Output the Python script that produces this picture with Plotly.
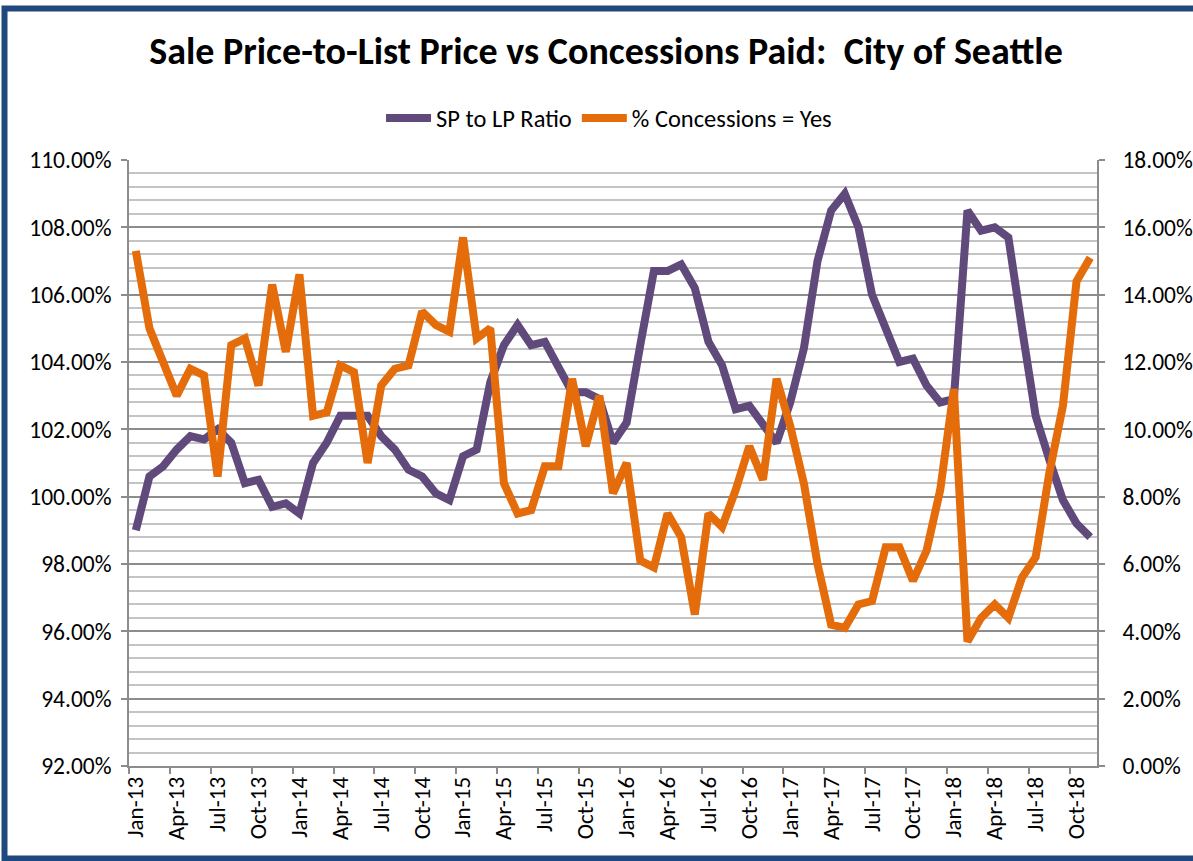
import plotly.graph_objects as go

months = [
    "Jan-13", "Feb-13", "Mar-13", "Apr-13", "May-13", "Jun-13", "Jul-13", "Aug-13", "Sep-13", "Oct-13", "Nov-13", "Dec-13",
    "Jan-14", "Feb-14", "Mar-14", "Apr-14", "May-14", "Jun-14", "Jul-14", "Aug-14", "Sep-14", "Oct-14", "Nov-14", "Dec-14",
    "Jan-15", "Feb-15", "Mar-15", "Apr-15", "May-15", "Jun-15", "Jul-15", "Aug-15", "Sep-15", "Oct-15", "Nov-15", "Dec-15",
    "Jan-16", "Feb-16", "Mar-16", "Apr-16", "May-16", "Jun-16", "Jul-16", "Aug-16", "Sep-16", "Oct-16", "Nov-16", "Dec-16",
    "Jan-17", "Feb-17", "Mar-17", "Apr-17", "May-17", "Jun-17", "Jul-17", "Aug-17", "Sep-17", "Oct-17", "Nov-17", "Dec-17",
    "Jan-18", "Feb-18", "Mar-18", "Apr-18", "May-18", "Jun-18", "Jul-18", "Aug-18", "Sep-18", "Oct-18", "Nov-18",
]

sp_to_lp_ratio = [
    99.0, 100.6, 100.9, 101.4, 101.8, 101.7, 102.0, 101.6, 100.4, 100.5, 99.7, 99.8,
    99.5, 101.0, 101.6, 102.4, 102.4, 102.4, 101.8, 101.4, 100.8, 100.6, 100.1, 99.9,
    101.2, 101.4, 103.4, 104.5, 105.1, 104.5, 104.6, 103.9, 103.1, 103.1, 102.9, 101.6,
    102.2, 104.5, 106.7, 106.7, 106.9, 106.2, 104.6, 103.9, 102.6, 102.7, 102.1, 101.6,
    102.8, 104.4, 107.0, 108.5, 109.0, 108.0, 106.0, 105.0, 104.0, 104.1, 103.3, 102.8,
    102.9, 108.5, 107.9, 108.0, 107.7, 105.0, 102.4, 101.1, 99.9, 99.2, 98.8,
]

concessions_yes = [
    15.3, 13.0, 12.0, 11.0, 11.8, 11.6, 8.6, 12.5, 12.7, 11.3, 14.3, 12.3,
    14.6, 10.4, 10.5, 11.9, 11.7, 9.0, 11.3, 11.8, 11.9, 13.5, 13.1, 12.9,
    15.7, 12.7, 13.0, 8.4, 7.5, 7.6, 8.9, 8.9, 11.5, 9.5, 11.0, 8.1,
    9.0, 6.1, 5.9, 7.5, 6.8, 4.5, 7.5, 7.1, 8.2, 9.5, 8.5, 11.5,
    10.1, 8.4, 6.0, 4.2, 4.1, 4.8, 4.9, 6.5, 6.5, 5.5, 6.4, 8.2,
    11.2, 3.7, 4.4, 4.8, 4.4, 5.6, 6.2, 8.7, 10.7, 14.4, 15.1,
]

left_range = [92, 110]
right_range = [0, 18]

PURPLE = "#604A7B"
ORANGE = "#E46C0A"
AXIS_GRAY = "#8C8C8C"
MINOR_GRAY = "#C4C4C4"
FONT = "Carlito, Liberation Sans, Arial, sans-serif"

fig = go.Figure()
fig.add_trace(go.Scatter(
    x=months, y=sp_to_lp_ratio, name="SP to LP Ratio", mode="lines",
    line=dict(color=PURPLE, width=8),
))
fig.add_trace(go.Scatter(
    x=months, y=concessions_yes, name="% Concessions = Yes", mode="lines",
    yaxis="y2", line=dict(color=ORANGE, width=8),
))

W, H = 1193, 861
L, R, T, B = 129, 96, 160, 95
pw, ph = W - L - R, H - T - B


def px_x(v):
    return (v - L) / pw


def px_y(v):
    return (H - B - v) / ph


fig.update_layout(
    width=W, height=H,
    margin=dict(l=L, r=R, t=T, b=B, autoexpand=False),
    paper_bgcolor="white", plot_bgcolor="white",
    font=dict(family=FONT, size=23, color="black"),
    title=dict(
        text="<b>Sale Price-to-List Price vs Concessions Paid:\u00a0 City of Seattle</b>",
        x=0.508, xref="container", xanchor="center",
        y=1 - 51 / H, yref="container", yanchor="middle",
        font=dict(family=FONT, size=38, color="black"),
    ),
    legend=dict(
        orientation="h", x=px_x(609), xanchor="center", y=px_y(118), yanchor="middle",
        font=dict(size=24.5), itemwidth=45, bgcolor="rgba(0,0,0,0)",
    ),
    showlegend=True,
    xaxis=dict(
        type="category", tickson="boundaries", dtick=3, tickangle=-90,
        ticks="outside", ticklen=6, tickcolor=AXIS_GRAY, tickwidth=1.5,
        showline=True, linecolor=AXIS_GRAY, linewidth=1.5,
        showgrid=False, zeroline=False, range=[-0.5, len(months) - 0.5],
        tickfont=dict(size=23), automargin=False,
    ),
    yaxis=dict(
        range=left_range, tick0=92, dtick=2, ticksuffix="%", tickformat=".2f",
        ticks="outside", ticklen=6, tickcolor=AXIS_GRAY, tickwidth=1.5,
        showline=True, linecolor=AXIS_GRAY, linewidth=1.5,
        showgrid=True, gridcolor=AXIS_GRAY, gridwidth=1.5, zeroline=False,
        minor=dict(tick0=92, dtick=0.4, showgrid=True, gridcolor=MINOR_GRAY, gridwidth=1.5),
        tickfont=dict(size=23.5), ticklabelstandoff=5, automargin=False,
    ),
    yaxis2=dict(
        range=right_range, tick0=0, dtick=2, ticksuffix="%", tickformat=".2f",
        overlaying="y", side="right",
        ticks="outside", ticklen=6, tickcolor=AXIS_GRAY, tickwidth=1.5,
        showline=True, linecolor=AXIS_GRAY, linewidth=1.5,
        showgrid=False, zeroline=False,
        tickfont=dict(size=23.5), ticklabelstandoff=13, automargin=False,
    ),
    shapes=[dict(
        type="rect", xref="paper", yref="paper",
        x0=px_x(4.5), x1=px_x(1200), y0=px_y(858.5), y1=px_y(8.5),
        line=dict(color="#1F497D", width=6), fillcolor="rgba(0,0,0,0)", layer="above",
    )],
)

fig.write_html(
    "out.html",
    config={"displayModeBar": False},
    post_script="document.body.style.margin='0';document.body.style.padding='0';",
)
